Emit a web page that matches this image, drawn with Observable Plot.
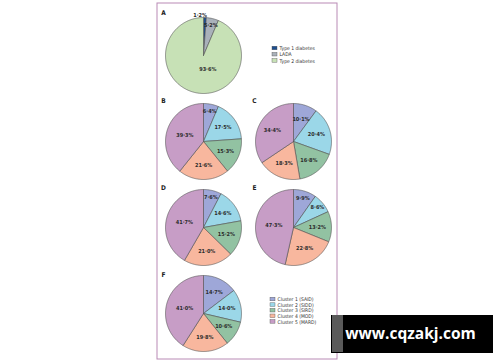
<!DOCTYPE html>
<html><head><meta charset="utf-8">
<script src="https://cdn.jsdelivr.net/npm/d3@7"></script>
<script src="https://cdn.jsdelivr.net/npm/@observablehq/plot@0.6"></script>
<style>html,body{margin:0;padding:0;background:#fff;} #chart svg{display:block}</style>
</head><body><div id="chart"></div>
<script>
// ---- data ----
const typeLabels = ["Type 1 diabetes", "LADA", "Type 2 diabetes"];
const typeValues = [1.2, 5.2, 93.6];
const clusterLabels = ["Cluster 1 (SAID)", "Cluster 2 (SIDD)", "Cluster 3 (SIRD)", "Cluster 4 (MOD)", "Cluster 5 (MARD)"];
const valuesB = [6.4, 17.5, 15.3, 21.6, 39.3];
const valuesC = [10.1, 20.4, 16.8, 18.3, 34.4];
const valuesD = [7.6, 14.6, 15.2, 21.0, 41.7];
const valuesE = [9.9, 8.6, 13.2, 22.8, 47.3];
const valuesF = [14.7, 14.0, 10.6, 19.8, 41.0];
const panelNames = ["A", "B", "C", "D", "E", "F"];
const watermarkText = "www.cqzakj.com";

// ---- styles / layout ----
const typeColors = ["#1d4e8f", "#a9b1ba", "#c7e1b6"];
const clusterColors = ["#9ea7d8", "#9bd7e8", "#92c2a2", "#f8b79e", "#c79dc6"];
const R = 38;
const centers = {A: [203, 55], B: [203, 141], C: [293, 141], D: [203, 227], E: [293, 227], F: [203, 313]};
const letterPos = {A: [163, 12], B: [163, 100], C: [254, 100], D: [163, 187], E: [254, 187], F: [163, 274]};
const FONT = "'Liberation Sans Narrow', 'DejaVu Sans Condensed', 'Liberation Sans', sans-serif";

const panels = [
  {name: "A", values: typeValues, colors: typeColors},
  {name: "B", values: valuesB, colors: clusterColors},
  {name: "C", values: valuesC, colors: clusterColors},
  {name: "D", values: valuesD, colors: clusterColors},
  {name: "E", values: valuesE, colors: clusterColors},
  {name: "F", values: valuesF, colors: clusterColors}
];

const fmt = v => d3.format(".1f")(v).replace(".", "\u00b7") + "%";

const polyRows = [];
const labelRows = [];
for (const p of panels) {
  const [cx, cy] = centers[p.name];
  const arcs = d3.pie().sort(null).value(d => d)(p.values);
  arcs.forEach((a, i) => {
    const id = p.name + i;
    const color = p.colors[i];
    polyRows.push({id, x: cx, y: cy, color});
    const n = Math.max(2, Math.ceil((a.endAngle - a.startAngle) * 180 / Math.PI));
    for (let k = 0; k <= n; k++) {
      const t = a.startAngle + (a.endAngle - a.startAngle) * k / n;
      polyRows.push({id, x: cx + R * Math.sin(t), y: cy - R * Math.cos(t), color});
    }
    polyRows.push({id, x: cx, y: cy, color});
    const share = a.value / d3.sum(p.values) * 100;
    const rf = share < 3 ? 1.12 : share < 10 ? 0.82 : share > 80 ? 0.36 : share > 38 ? 0.52 : 0.63;
    const m = (a.startAngle + a.endAngle) / 2;
    labelRows.push({
      x: cx + R * rf * Math.sin(m) + (share < 3 ? -5 : share > 80 ? 7 : 0),
      y: cy - R * rf * Math.cos(m) + (share < 3 ? 2 : 0),
      text: fmt(a.value)
    });
  });
}

const legendA = typeLabels.map((t, i) => ({t, color: typeColors[i], x: 272, y: 48 + i * 6.2}));
const legendF = clusterLabels.map((t, i) => ({t, color: clusterColors[i], x: 270, y: 299 + i * 5.6}));
const legendRows = legendA.concat(legendF);

const letters = panelNames.map(n => ({n, x: letterPos[n][0], y: letterPos[n][1]}));

const chart = Plot.plot({
  width: 500, height: 362, margin: 0,
  x: {domain: [0, 500], range: [0, 500], axis: null},
  y: {domain: [0, 362], range: [0, 362], axis: null},
  color: {type: "identity"},
  style: {background: "#fff"},
  marks: [
    Plot.rect([0], {x1: 157, x2: 337, y1: 3, y2: 359, fill: "#fff", stroke: "#b98ab5", strokeWidth: 1}),
    Plot.line(polyRows, {x: "x", y: "y", z: "id", fill: "color", stroke: "#505050", strokeWidth: 0.6, strokeLinejoin: "round"}),
    Plot.text(labelRows, {x: "x", y: "y", text: "text", fontSize: 5.5, fontWeight: "bold", fill: "#2b2b2b", fontFamily: FONT}),
    Plot.text(letters, {x: "x", y: "y", text: "n", fontSize: 6.5, fontWeight: "bold", fill: "#222", fontFamily: FONT}),
    Plot.rect(legendRows, {x1: d => d.x, x2: d => d.x + 5, y1: d => d.y - 1.8, y2: d => d.y + 1.8, fill: "color", stroke: "#555", strokeWidth: 0.4}),
    Plot.text(legendRows, {x: d => d.x + 7, y: "y", text: "t", textAnchor: "start", fontSize: 5, fill: "#333", fontFamily: FONT}),
    Plot.rect([0], {x1: 331, x2: 493, y1: 315, y2: 353, fill: "#000"}),
    Plot.rect([0], {x1: 332, x2: 343, y1: 315, y2: 352, fill: "#5a5a5a"}),
    Plot.text([watermarkText], {x: 410, y: 334, text: d => d, fontSize: 15.5, fontWeight: "bold", fill: "#fff", fontFamily: "'Open Sans', 'DejaVu Sans', sans-serif"})
  ]
});
document.getElementById("chart").appendChild(chart);
</script>
</body></html>
